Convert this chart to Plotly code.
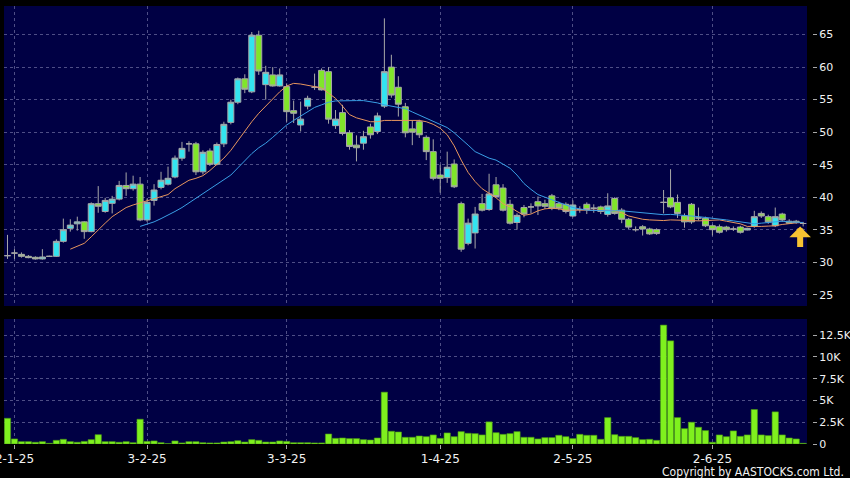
import plotly.graph_objects as go

# ---------------- data ----------------
DAY = list(range(115))

OPEN = [31.0, 31.4, 31.2, 30.9, 30.75, 30.5, 30.9, 30.9, 33.2, 35.2,
        35.9, 36.2, 34.7, 39.0, 37.8, 39.05, 39.7, 41.8, 41.3, 42.0,
        36.5, 39.5, 41.5, 42.0, 43.1, 46.0, 48.2, 48.2, 43.9, 47.1,
        45.05, 48.2, 51.5, 54.6, 58.2, 56.2, 64.9, 57.3, 58.8, 57.1,
        57.0, 53.3, 51.1, 54.0, 56.9, 59.5, 59.3, 51.0, 53.0, 49.9,
        48.0, 48.3, 50.8, 50.1, 54.0, 60.0, 56.9, 53.9, 50.5, 51.6,
        49.2, 47.0, 43.4, 43.0, 45.1, 39.0, 32.9, 34.5, 39.0, 38.1,
        41.9, 41.4, 38.9, 36.1, 38.4, 38.5, 39.3, 39.0, 40.2, 39.0,
        38.9, 37.1, 38.1, 38.9, 38.3, 38.5, 37.35, 39.8, 38.0, 36.6,
        35.0, 35.45, 35.1, 35.0, 39.2, 39.9, 39.2, 37.1, 38.9, 36.8,
        36.75, 35.6, 35.45, 35.4, 35.1, 35.4, 34.95, 35.5, 37.5, 37.0,
        35.6, 37.4, 36.3, 36.3, 35.95]
HIGH = [34.2, 32.0, 31.5, 31.1, 30.9, 32.0, 31.0, 33.5, 36.7, 36.6,
        37.0, 36.3, 39.2, 41.7, 39.9, 40.2, 42.5, 43.8, 43.3, 43.1,
        39.8, 42.0, 43.9, 44.7, 46.4, 48.5, 48.6, 48.5, 47.2, 47.5,
        48.4, 51.6, 55.0, 58.4, 58.9, 65.4, 65.6, 60.2, 60.0, 59.8,
        57.5, 54.85, 54.7, 55.6, 59.0, 59.8, 60.0, 53.4, 54.2, 50.3,
        49.5, 50.2, 51.3, 53.0, 67.5, 61.9, 58.6, 54.5, 51.8, 51.9,
        49.5, 48.9, 45.0, 47.0, 45.8, 39.3, 36.7, 38.5, 40.5, 43.6,
        43.1, 42.0, 39.6, 37.5, 38.8, 39.05, 40.1, 39.6, 40.5, 39.3,
        39.2, 39.5, 38.6, 39.2, 38.9, 38.7, 40.6, 40.0, 38.3, 36.8,
        35.5, 35.7, 35.3, 35.2, 41.1, 44.3, 40.4, 37.5, 39.1, 38.4,
        37.0, 35.8, 35.8, 35.6, 35.5, 35.6, 35.3, 37.9, 37.8, 37.3,
        38.4, 37.6, 36.6, 36.5, 36.2]
LOW = [30.5, 30.5, 30.7, 30.6, 30.4, 30.4, 30.8, 30.8, 33.0, 34.7,
       34.85, 33.6, 34.6, 37.6, 37.6, 37.5, 39.5, 40.2, 41.0, 36.3,
       36.2, 38.7, 41.2, 41.8, 42.9, 45.6, 47.0, 43.4, 43.5, 44.8,
       44.9, 47.7, 51.2, 54.3, 56.0, 56.0, 58.8, 55.0, 57.0, 57.0,
       51.6, 51.4, 50.1, 53.5, 56.5, 56.4, 51.3, 50.5, 49.5, 47.3,
       45.5, 47.3, 49.0, 49.7, 53.7, 55.3, 52.4, 49.2, 48.0, 49.1,
       45.7, 42.6, 40.7, 42.2, 41.4, 31.6, 32.6, 32.1, 37.8, 37.9,
       40.0, 37.8, 35.8, 35.0, 36.9, 37.5, 37.25, 38.2, 38.0, 38.0,
       37.5, 36.9, 37.6, 37.4, 37.6, 37.4, 37.0, 37.3, 36.0, 35.1,
       34.7, 34.1, 34.2, 34.2, 37.5, 38.3, 36.8, 35.3, 35.9, 36.4,
       35.4, 34.1, 34.4, 34.7, 34.8, 34.4, 34.9, 35.3, 36.8, 35.9,
       35.4, 36.2, 35.9, 35.9, 35.5]
CLOSE = [31.0, 31.4, 30.9, 30.7, 30.5, 30.8, 30.9, 33.2, 35.0, 35.7,
         36.2, 34.7, 39.0, 38.6, 39.5, 39.7, 41.8, 41.3, 42.0, 36.5,
         39.2, 41.1, 42.6, 42.9, 46.0, 47.5, 48.2, 43.9, 46.9, 45.05,
         48.1, 51.2, 54.6, 58.2, 56.6, 64.9, 59.4, 59.2, 57.1, 58.8,
         53.15, 52.9, 52.0, 55.2, 56.9, 56.5, 52.0, 52.0, 49.8, 47.8,
         47.6, 49.3, 49.6, 52.5, 59.3, 55.7, 54.3, 49.9, 50.0, 49.6,
         47.0, 42.9, 42.9, 44.6, 41.6, 32.0, 36.0, 37.4, 38.0, 40.5,
         40.1, 38.0, 36.0, 37.2, 37.4, 38.5, 38.65, 38.6, 38.3, 38.3,
         37.8, 38.8, 38.1, 38.1, 38.3, 37.8, 38.65, 37.5, 36.6, 35.4,
         35.0, 35.1, 34.35, 34.4, 39.2, 38.5, 37.5, 36.2, 36.2, 36.8,
         35.6, 35.0, 34.6, 35.0, 35.1, 34.6, 35.2, 37.0, 37.1, 36.2,
         37.0, 36.5, 36.0, 36.1, 35.95]
VOLUME_K = [2.95, 0.58, 0.27, 0.27, 0.2, 0.27, 0.08, 0.42, 0.54, 0.27,
            0.2, 0.3, 0.5, 1.07, 0.27, 0.27, 0.2, 0.27, 0.15, 2.84,
            0.3, 0.35, 0.15, 0.04, 0.35, 0.12, 0.27, 0.27, 0.15, 0.12,
            0.12, 0.23, 0.27, 0.38, 0.23, 0.5, 0.42, 0.23, 0.23, 0.35,
            0.3, 0.15, 0.15, 0.15, 0.12, 0.12, 1.15, 0.65, 0.69, 0.62,
            0.62, 0.5, 0.46, 0.69, 5.95, 1.46, 1.38, 0.77, 0.77, 0.92,
            0.84, 1.04, 0.65, 1.27, 0.84, 1.42, 1.23, 1.19, 1.04, 2.54,
            1.3, 1.11, 1.19, 1.42, 0.77, 0.77, 0.58, 0.73, 0.73, 1.0,
            0.84, 0.62, 1.11, 1.0, 1.0, 0.54, 3.03, 1.07, 0.88, 0.88,
            0.73, 0.5, 0.54, 0.42, 13.65, 11.84, 3.03, 1.76, 2.5, 1.92,
            1.54, 0.2, 1.04, 0.84, 1.5, 0.88, 1.04, 3.96, 1.04, 0.96,
            3.69, 1.04, 0.69, 0.58, 0.08]
MA10_START = 9
MA10 = [32.0, 32.4, 32.9, 33.9, 35.0, 36.0, 37.0, 37.7, 38.4, 38.8,
        39.1, 39.5, 39.7, 40.1, 40.4, 41.3, 41.9, 42.6, 42.9, 43.3,
        44.1, 45.0, 46.0, 47.2, 48.7, 50.2, 51.6, 52.9, 54.0, 55.1,
        56.2, 57.1, 57.5, 57.4, 57.2, 56.9, 56.8, 56.0, 55.2, 54.0,
        52.7, 52.2, 51.9, 51.6, 51.6, 51.8, 51.8, 51.8, 51.8, 51.8,
        51.8, 51.6, 51.2, 50.6, 49.6, 47.9, 45.7, 43.8, 42.4, 41.3,
        40.6, 39.9, 39.0, 38.5, 37.8, 37.2, 37.4, 37.9, 38.2, 38.3,
        38.2, 38.0, 38.0, 38.0, 38.1, 38.1, 38.1, 38.0, 37.9, 37.6,
        37.1, 36.8, 36.6, 36.5, 36.4, 36.4, 36.5, 36.5, 36.5, 36.4,
        36.35, 36.4, 36.5, 36.5, 36.3, 36.1, 35.9, 35.5, 35.45, 35.5,
        35.55, 35.6, 35.8, 35.95, 36.05, 36.1]
MA20_START = 19
MA20 = [35.5, 35.8, 36.2, 36.7, 37.2, 37.8, 38.4, 39.1, 39.8, 40.5,
        41.2, 41.9, 42.6, 43.4, 44.5, 45.6, 46.7, 47.6, 48.3, 49.2,
        50.2, 51.1, 51.8, 52.5, 53.1, 53.8, 54.2, 54.6, 54.8, 54.85,
        54.85, 54.85, 54.85, 54.7, 54.5, 54.2, 54.0, 53.8, 53.6, 53.1,
        52.6, 52.2, 51.7, 51.2, 50.7, 49.9, 49.0, 48.0, 47.0, 46.5,
        46.0, 45.7, 45.1, 44.45, 43.4, 42.1, 41.2, 40.4, 40.0, 39.6,
        39.1, 38.8, 38.4, 38.2, 38.0, 37.95, 37.9, 37.9, 37.9, 37.9,
        37.8, 37.6, 37.5, 37.4, 37.3, 37.3, 37.35, 37.3, 37.2, 37.1,
        37.0, 36.9, 36.8, 36.6, 36.5, 36.35, 36.2, 36.0, 35.9, 36.0,
        36.1, 36.3, 36.3, 36.2, 36.15, 36.1]
TICK_DAYS = [1, 20, 40, 62, 81, 101]
TICK_TEXT = ["2-1-25", "3-2-25", "3-3-25", "1-4-25", "2-5-25", "2-6-25"]
PRICE_TICKS = [25, 30, 35, 40, 45, 50, 55, 60, 65]
VOL_TICKS = [0, 2.5, 5, 7.5, 10, 12.5]
VOL_TEXT = ["0", "2.5K", "5K", "7.5K", "10K", "12.5K"]

# ---------------- styling ----------------
BG = "#000044"
GRID = "#4e4e86"
WICK = "#a8a8a8"
UP = "#33e4f0"
DOWN = "#80e62a"
TXT = "#f2f2f2"
FONT = "DejaVu Sans"

fig = go.Figure()

fig.add_trace(go.Candlestick(
    x=DAY, open=OPEN, high=HIGH, low=LOW, close=CLOSE,
    increasing=dict(fillcolor=UP, line=dict(color=WICK, width=1)),
    decreasing=dict(fillcolor=DOWN, line=dict(color=WICK, width=1)),
    whiskerwidth=0, xaxis="x", yaxis="y", showlegend=False, hoverinfo="skip"))

fig.add_trace(go.Scatter(
    x=DAY[MA10_START:], y=MA10, mode="lines",
    line=dict(color="#e8965e", width=1), xaxis="x", yaxis="y",
    showlegend=False, hoverinfo="skip"))
fig.add_trace(go.Scatter(
    x=DAY[MA20_START:], y=MA20, mode="lines",
    line=dict(color="#3a9fe6", width=1), xaxis="x", yaxis="y",
    showlegend=False, hoverinfo="skip"))

fig.add_trace(go.Bar(
    x=DAY, y=VOLUME_K, xaxis="x2", yaxis="y2",
    marker=dict(color="#7ff01e", line=dict(color="#4a9a14", width=0.6)),
    showlegend=False, hoverinfo="skip"))

XR = [-0.5, 114.55]
XDOM = [0, 803 / 808]

axis_common = dict(showline=False, zeroline=False, gridcolor=GRID,
                   griddash="3px,3px", gridwidth=1)

fig.update_layout(
    template="none",
    width=850, height=478,
    margin=dict(l=4, r=38, t=6, b=34),
    paper_bgcolor="black", plot_bgcolor=BG,
    font=dict(family=FONT, color=TXT, size=11),
    boxgap=0.1, boxgroupgap=0.05,
    bargap=0.1,
    showlegend=False,
    xaxis=dict(domain=XDOM, anchor="y", range=XR, tickvals=TICK_DAYS,
               showticklabels=False, ticks="", showgrid=True,
               rangeslider=dict(visible=False), matches="x2",
               automargin=False, **axis_common),
    xaxis2=dict(domain=XDOM, anchor="y2", range=XR, tickvals=TICK_DAYS,
                ticktext=TICK_TEXT, ticks="outside", ticklen=4,
                tickcolor=WICK, tickfont=dict(size=12, color=TXT),
                ticklabeloverflow="allow",
                showgrid=True, automargin=False, **axis_common),
    yaxis=dict(domain=[138 / 438, 1], anchor="free", position=1.0,
               side="right", range=[23.26, 69.4], tickvals=PRICE_TICKS,
               ticks="outside", ticklen=4, tickcolor=WICK,
               tickfont=dict(size=11, color=TXT), showgrid=True,
               ticklabeloverflow="allow",
               automargin=False, **axis_common),
    yaxis2=dict(domain=[0, 125 / 438], anchor="free", position=1.0,
                side="right", range=[0, 14.35], tickvals=VOL_TICKS,
                ticktext=VOL_TEXT, ticks="outside", ticklen=4,
                tickcolor=WICK, tickfont=dict(size=11, color=TXT),
                ticklabeloverflow="allow",
                showgrid=True, automargin=False, **axis_common),
)

# current-price marker arrow
fig.add_annotation(x=DAY[-1], y=CLOSE[-1] - 0.45, xref="x", yref="y",
                   ax=0, ay=22, text="", showarrow=True, arrowhead=1,
                   arrowsize=0.6, arrowwidth=6, arrowcolor="#f6c232",
                   standoff=0, xshift=-3)

fig.add_annotation(x=1.042, y=-0.063, xref="paper", yref="paper",
                   xanchor="right", yanchor="middle", showarrow=False,
                   text="Copyright by AASTOCKS.com Ltd.",
                   font=dict(family="Liberation Sans Narrow, DejaVu Sans Condensed, sans-serif",
                             size=12, color=TXT))

fig.write_html("out.html",
               config={"displayModeBar": False, "staticPlot": True},
               post_script="document.body.style.margin='0';"
                           "document.body.style.background='black';")
